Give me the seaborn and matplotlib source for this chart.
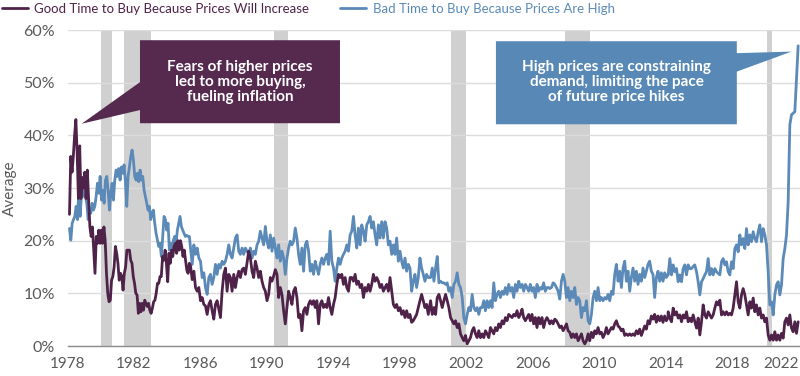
import matplotlib
matplotlib.use("Agg")
import matplotlib.pyplot as plt
from matplotlib.patches import Polygon
from matplotlib.lines import Line2D
import numpy as np
import pandas as pd
import seaborn as sns

# ---- data (% of respondents) ----
good_label = "Good Time to Buy Because Prices Will Increase"
bad_label = "Bad Time to Buy Because Prices Are High"

# segments: (first year, last year) and evenly spaced readings in between
good_spans = [(1978.12, 1985.33), (1985.4, 1992.5), (1992.6, 1999.7),
              (1999.84, 2006.94), (2007.01, 2014.12), (2014.13, 2021.95)]
bad_spans = [(1978.12, 1985.33), (1985.4, 1992.5), (1992.6, 1999.7),
             (1999.84, 2006.94), (2007.01, 2014.12), (2014.13, 2021.95)]

good_1 = [25, 36, 33, 36, 40, 43, 36.6, 28, 38, 28, 32, 30, 33, 28, 33.4,
          27.7, 22.6, 20.8, 22.6, 18.2, 13.8, 20.8, 19.5, 22, 19.5, 22, 19.5,
          22.6, 20, 13.8, 10, 8.4, 8.7, 12.5, 13.2, 15, 18.9, 17.6, 15.7, 12.5,
          13.8, 13.2, 10.6, 13.8, 15, 18.2, 18.2, 18.2, 16.3, 15.7, 13.2, 11.9,
          10, 9.7, 6.2, 8.1, 6.5, 8.1, 6.8, 8.7, 8.1, 7.5, 8.1, 6.8, 6.2, 7.2,
          8.4, 8.7, 10, 11.9, 11.9, 13.2, 13.2, 17, 16.3, 18.2, 15.7, 12.2,
          17.6, 15.7, 18.2, 17, 18.9, 19.5, 17.6, 20, 18.2, 20, 18.9, 17, 18.2,
          16.3, 14.4, 13.8, 15.7]
good_2 = [15.2, 12.6, 14.2, 11.1, 10.4, 11.1, 8.6, 9.2, 7.9, 7.6, 6, 7.9, 8.6,
          6.7, 5.1, 7.9, 8.6, 7, 5.4, 10.4, 13.6, 14.8, 10.4, 13.6, 13, 10.4,
          13.6, 11.1, 13, 14.2, 13, 14.5, 14.8, 13.6, 15.8, 18, 16.7, 14.2, 13,
          16.1, 14.8, 13, 14.2, 12.3, 11.1, 10.4, 8.6, 9.8, 13, 12.3, 13.3, 14.5,
          13.6, 9.2, 11.1, 9.8, 6.7, 4.2, 7.3, 10.4, 9.2, 7.9, 10.4, 11.1, 9.2,
          5.4, 6, 2.9, 6.7, 7.3, 6, 7.9]
good_3 = [8.6, 7.9, 8.6, 7.3, 8.6, 4.2, 7.9, 8.6, 7.3, 7.9, 7.3, 9.2, 7.3, 6,
          7.9, 9.2, 11.7, 13.6, 13, 13.6, 11.7, 13, 11.1, 10.4, 13, 13, 12.3,
          13.6, 11.7, 12.3, 11.1, 11.7, 9.2, 11.1, 10.4, 11.7, 10.4, 11.7, 13.6,
          12.3, 13, 12.3, 11.1, 11.7, 10.4, 11.1, 11.7, 10.4, 13, 10.4, 7.9, 7.3,
          7.9, 6.7, 7.3, 6, 6.7, 5.4, 6.7, 5.4, 6, 4.5, 4.8, 5.4, 6, 7.3, 8.6,
          9.8, 8.6, 7.3, 7.9, 6]
good_4 = [8.6, 6, 7.3, 6, 9.2, 9.8, 8.6, 7.3, 8.6, 9.8, 8.6, 7.3, 5.4, 4.8, 4.2,
          4.8, 3.5, 4.2, 2.3, 1.6, 1, 2, 0.4, 1, 1.6, 2.9, 3.5, 2.3, 1.6, 2.9,
          1.6, 2.3, 1.6, 2.9, 2.3, 1.6, 3.5, 2.9, 2.3, 3.5, 2.9, 4.2, 3.5, 4.8,
          4.2, 5.4, 4.8, 6, 5.7, 5.4, 6, 5.7, 6.7, 5.4, 6, 7, 5.4, 4.8, 5.4, 6,
          4.8, 6, 4.2, 5.4, 3.5, 5.4, 4.2, 5.4, 3.5, 4.8, 5.4, 4.8]
good_5 = [4.2, 4.8, 4.2, 5.1, 4.8, 4.2, 3.5, 3.8, 2.9, 3.5, 4.2, 2.9, 2.6, 1.6,
          2.3, 1.6, 2.3, 1, 1.6, 2.3, 1, 0.4, 1, 2.3, 1, 2.6, 1.6, 2.9, 2.3, 3.5,
          2.3, 2.6, 1.6, 2.3, 3.5, 2.3, 2.9, 3.5, 3.2, 4.2, 4.8, 3.8, 3.5, 2.9,
          3.2, 2, 2.3, 2, 2.3, 2, 2.3, 2, 2.9, 2.3, 3.2, 2, 2.9, 3.8, 3.2, 4.8,
          4.2, 5.7, 5.1, 6, 4.5, 5.7, 4.8, 5.7, 4.5, 5.7, 4.8, 5.4]
good_6 = [6.5, 5.3, 4.6, 7.2, 5.9, 6.5, 5.3, 5.9, 4.6, 5.9, 5.3, 6.5, 4.6, 5.3,
          4.6, 5.9, 4.6, 3.4, 5.3, 2.1, 4.6, 7.8, 5.9, 5.3, 6.5, 5.9, 5.3, 5.9,
          7.2, 8.4, 7.8, 8.7, 5.9, 6.5, 5.9, 6.5, 5.9, 6.2, 5.9, 7.2, 9.7, 12.2,
          8.4, 7.2, 9.7, 10.9, 9.7, 7.8, 5.9, 8.4, 7.2, 9.1, 6.5, 7.8, 5.9, 7.2,
          5.3, 5.9, 4.6, 5.3, 2.1, 1.1, 2.1, 1.1, 2.7, 1.1, 2.1, 1.1, 2.4, 1.5,
          4.6, 5.3, 4, 5.9, 3.4, 2.7, 4.6, 2.4, 4.6]

bad_1 = [22.3, 20.1, 23.3, 24, 24.6, 26.5, 24, 29.6, 24.6, 29, 28.4, 30.3, 28.4,
         27.1, 24, 25.8, 25.2, 27.1, 25.8, 26.5, 28.4, 30.9, 29, 32.2, 27.7,
         29.6, 27.1, 31.5, 32.2, 29.6, 25.8, 29, 30.9, 27.7, 31.5, 33.4, 32.2,
         33.7, 31.5, 34, 32.8, 34.4, 31.2, 26.5, 32.2, 34, 36, 37.2, 35.3, 32.2,
         31.5, 32.8, 31.2, 33.4, 31.5, 32.2, 29.6, 28.4, 27.1, 25.8, 26.5, 24,
         25.2, 25.8, 23.3, 21.4, 20.1, 18.9, 19.5, 17, 20.8, 24.6, 24, 22, 23.3,
         18.2, 19.5, 17, 20.1, 20.8, 19.5, 22, 23.3, 24.6, 22.7, 22, 21.4, 20.8,
         21, 20.8, 20.8]
bad_2 = [18.6, 15.5, 19.2, 17.4, 18.6, 16.7, 16.1, 13, 13.9, 11.1, 9.8, 13, 13.6,
         11.7, 13, 15.5, 13.6, 15.5, 14.8, 16.1, 15.5, 16.1, 17.4, 19.2, 17.4,
         16.7, 18.6, 20.5, 21.1, 18, 17.4, 18.6, 17.4, 18.6, 18, 17.4, 18.6,
         16.7, 18, 17.4, 19.2, 19.9, 21.8, 20.5, 19.2, 22.7, 19.9, 18.6, 21.1,
         18, 20.5, 18.6, 16.7, 19.2, 16.1, 18, 16.7, 13.6, 16.7, 18.6, 19.9,
         19.2, 19.9, 22.4, 20.5, 17.4, 15.5, 18.6, 14.2, 19.2, 19.9, 18]
bad_3 = [14.2, 15.5, 13.6, 16.1, 14.8, 13.6, 15.5, 16.7, 15.5, 16.7, 17.4, 15.5,
         21.8, 16.1, 14.8, 12.3, 14.8, 16.7, 15.5, 16.7, 17.4, 18, 19.2, 18,
         21.1, 21.8, 24.6, 21.1, 18.6, 22.4, 19.2, 23, 21.8, 19.9, 23, 23.6,
         24.6, 22.4, 23.6, 21.1, 19.2, 23, 20.5, 23.6, 20.5, 23.6, 22.4, 19.2,
         19.9, 17.4, 19.2, 17.4, 20.5, 16.1, 18, 16.1, 14.8, 16.7, 14.2, 15.5,
         14.8, 10.4, 12.3, 13.6, 11.1, 13, 16.7, 14.8, 13.6, 12.3, 13.6, 13]
bad_4 = [13, 14.8, 12.3, 14.8, 17, 12, 12.3, 12, 12, 11.7, 12, 10.4, 11.1, 9.2,
         11.7, 12.3, 13.9, 11.7, 11.1, 9.2, 5.4, 4.2, 6, 7.3, 6.7, 9.8, 7.3,
         6.7, 7.3, 6, 7.3, 7.3, 8.6, 6.7, 8.6, 7.3, 8.6, 7.3, 12, 8.6, 9.8, 10.4,
         9.2, 10.4, 9.8, 11.1, 9.8, 11.7, 10.4, 11.1, 9.2, 11.7, 10.4, 12.3,
         11.1, 11.7, 10.4, 11.7, 11.1, 10.4, 11.7, 10.4, 11.1, 9.2, 11.7, 10.4,
         11.1, 10.8, 12, 10.4, 11.1, 11.1]
bad_5 = [10.9, 11.1, 12, 11.7, 11.1, 10.4, 8.9, 12.3, 13.6, 12.3, 9.2, 11.1, 8.6,
         10.4, 9.2, 11.1, 7.9, 9.2, 8.6, 5.4, 7.3, 6.7, 8.6, 4.8, 4.2, 6, 9.2,
         10.4, 8.6, 11.1, 8.6, 9.2, 8.6, 9.2, 8.9, 9.8, 8.6, 10.4, 9.8, 13.6,
         15.5, 12.3, 14.2, 11.1, 14.8, 16.1, 12.3, 14.2, 10.4, 13, 14.8, 12.3,
         14.2, 11.7, 13.6, 12.3, 14.8, 13, 14.2, 15.5, 16.1, 14.2, 13.6, 9.2, 13,
         14.2, 12.3, 13.9, 12.3, 13.9, 13, 13.6]
bad_6 = [13.5, 16.6, 13.5, 15.4, 14.1, 14.7, 12.2, 13.5, 12.2, 14.7, 15.4, 13.5,
         15.4, 14.7, 14.7, 15.1, 15.4, 14.1, 12.2, 9.7, 12.2, 12.8, 13.5, 14.1,
         16.6, 13.5, 14.7, 13.5, 14.7, 14.1, 13.8, 13.5, 16, 16.6, 15.4, 16,
         14.1, 13.5, 16, 14.7, 18.5, 19.2, 17.9, 21.1, 19.2, 20.4, 18.5, 22.3,
         19.2, 21.1, 19.8, 21.7, 20.4, 19.8, 21.7, 23, 19.8, 22.3, 21.1, 19.2,
         14.1, 7.8, 8.4, 5.9, 9.7, 11.6, 12.2, 9.7, 11.6, 16.6, 18.5, 21.1, 27.4,
         42, 43.9, 44.2, 44.5, 50.8, 57]

good_segments = [good_1, good_2, good_3, good_4, good_5, good_6]
bad_segments = [bad_1, bad_2, bad_3, bad_4, bad_5, bad_6]

# recessions (shaded bands)
rec_start = [1980.0, 1981.4, 1990.45, 2001.05, 2007.9, 2020.05]
rec_end = [1980.65, 1983.0, 1991.25, 2001.95, 2009.45, 2020.35]

x_ticks = list(range(1978, 2023, 4))
y_ticks = [0, 10, 20, 30, 40, 50, 60]


def build(label, spans, segments):
    years = np.concatenate([np.linspace(a, b, len(v)) for (a, b), v in zip(spans, segments)])
    vals = np.concatenate([np.asarray(v, float) for v in segments])
    return pd.DataFrame({"year": years, "value": vals, "series": label})


df = pd.concat([build(bad_label, bad_spans, bad_segments),
                build(good_label, good_spans, good_segments)], ignore_index=True)

# ---- style ----
purple = "#4f2249"
purple_box = "#56294f"
blue = "#5b8ab8"
blue_box = "#5889b6"
grey_txt = "#595959"

sns.set_style("white")
plt.rcParams["font.family"] = ["Lato", "DejaVu Sans"]

fig = plt.figure(figsize=(8, 3.76), dpi=100)
ax = fig.add_axes([67.5 / 800, 30 / 376, (800 - 67.5) / 800, 316 / 376])

for s, e in zip(rec_start, rec_end):
    ax.axvspan(s, e, color="#d0d0d0", lw=0, zorder=0.5)

sns.lineplot(data=df, x="year", y="value", hue="series",
             hue_order=[bad_label, good_label],
             palette={good_label: purple, bad_label: blue},
             estimator=None, linewidth=2.0, legend=False, ax=ax, zorder=3)

ax.set_xlim(1978, 2022.06)
ax.set_ylim(0, 60)
ax.set_yticks(y_ticks)
ax.set_yticklabels([f"{v}%" for v in y_ticks])
ax.set_xticks(x_ticks)
ax.set_xticklabels([str(t) for t in x_ticks])
ax.get_xticklabels()[-1].set_horizontalalignment("right")
ax.grid(axis="y", color="#dcdcdc", lw=1, zorder=0)
ax.set_axisbelow(True)
for side in ["top", "right", "left"]:
    ax.spines[side].set_visible(False)
ax.spines["bottom"].set_color("#8c8c8c")
ax.spines["bottom"].set_linewidth(1)
ax.tick_params(axis="x", length=5, width=1, color="#8c8c8c", labelsize=11,
               labelcolor=grey_txt, pad=3)
ax.tick_params(axis="y", length=0, labelsize=11.5, labelcolor=grey_txt, pad=9)
ax.set_xlabel("")
ax.set_ylabel("Average", fontsize=11, color=grey_txt)
ax.yaxis.set_label_coords(-0.0695, 0.5)

# ---- callouts ----
p_box = [(1982.36, 58.06), (1994.39, 58.06), (1994.39, 42.3), (1982.36, 42.3),
         (1982.36, 44.8), (1978.85, 42.2), (1982.36, 50.1)]
b_box = [(2003.77, 57.87), (2018.26, 57.87), (2018.26, 55.6), (2021.55, 55.9),
         (2018.26, 52.1), (2018.26, 42.1), (2003.77, 42.1)]
ax.add_patch(Polygon(p_box, closed=True, fc=purple_box, ec="none", zorder=5, clip_on=False))
ax.add_patch(Polygon(b_box, closed=True, fc=blue_box, ec="none", zorder=5, clip_on=False))
ax.text(1988.38, 50.1, "Fears of higher prices\nled to more buying,\nfueling inflation",
        ha="center", va="center", color="white", fontsize=11, fontweight="bold",
        linespacing=1.1, zorder=6)
ax.text(2011.03, 50.1, "High prices are constraining\ndemand, limiting the pace\nof future price hikes",
        ha="center", va="center", color="white", fontsize=11, fontweight="bold",
        linespacing=1.1, zorder=6)

# ---- legend ----
handles = [Line2D([], [], color=purple, lw=2), Line2D([], [], color=blue, lw=2)]
fig.legend(handles, [good_label, bad_label], loc="upper left",
           bbox_to_anchor=(0, 0.997), ncol=2, frameon=False, fontsize=9.5,
           handlelength=1.95, handletextpad=0.5, columnspacing=2.35,
           borderaxespad=0, borderpad=0.15, labelcolor=[purple, blue])

fig.savefig("out.png", dpi=100)
